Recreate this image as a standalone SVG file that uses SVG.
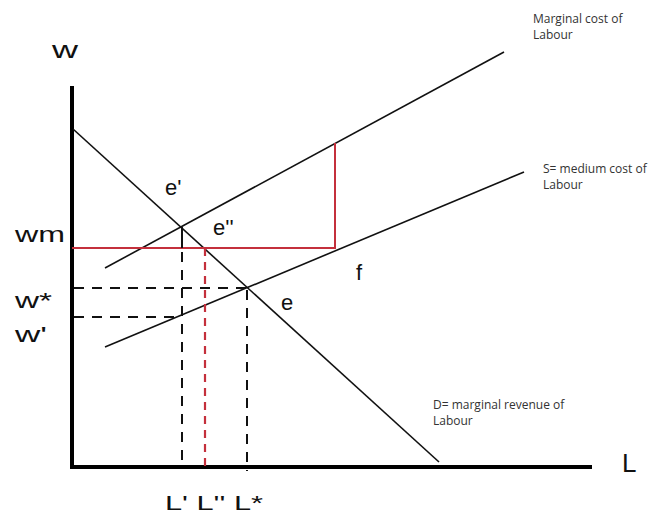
<svg xmlns="http://www.w3.org/2000/svg" width="659" height="515" viewBox="0 0 659 515">
<style>
.big{font-family:"Liberation Sans",Arial,sans-serif;fill:#111}
.small{font-family:"Open Sans","Liberation Sans",sans-serif;font-size:12px;fill:#333}
.curve{stroke:#111;stroke-width:1.6;fill:none}
.dash{stroke:#111;stroke-width:2;stroke-dasharray:10 8;fill:none}
.red{stroke:#c4303c;stroke-width:2;fill:none}
.reddash{stroke:#c4303c;stroke-width:2.2;stroke-dasharray:8 6;fill:none}
</style>
<rect width="659" height="515" fill="#fff"/>
<g id="axes">
<line x1="72" y1="86" x2="72" y2="469" stroke="#000" stroke-width="4"/>
<line x1="70" y1="467" x2="592" y2="467" stroke="#000" stroke-width="4"/>
</g>
<g id="connectors">
<line class="curve" x1="73" y1="129" x2="439" y2="462"/>
<line class="curve" x1="105" y1="268" x2="504" y2="52"/>
<line class="curve" x1="105" y1="347" x2="524" y2="172"/>
<polyline class="red" points="72,248 335,248 335,143"/>
<line class="reddash" x1="205" y1="248" x2="205" y2="467"/>
<line x1="182" y1="227" x2="182" y2="248" stroke="#111" stroke-width="2"/>
<line class="dash" x1="182" y1="252" x2="182" y2="467"/>
<line class="dash" x1="247" y1="290" x2="247" y2="471"/>
<line class="dash" x1="74" y1="288" x2="247" y2="288"/>
<line class="dash" x1="74" y1="317" x2="182" y2="317"/>
</g>
<g id="labels">
<text class="big" x="52" y="58" font-size="24" textLength="26" lengthAdjust="spacingAndGlyphs">w</text>
<text class="big" x="165" y="195" font-size="22">e'</text>
<text class="big" x="213" y="235" font-size="22">e''</text>
<text class="big" x="15" y="242" font-size="22" textLength="50" lengthAdjust="spacingAndGlyphs">wm</text>
<text class="big" x="15" y="308" font-size="22" textLength="37" lengthAdjust="spacingAndGlyphs">w*</text>
<text class="big" x="15" y="342" font-size="22" textLength="32" lengthAdjust="spacingAndGlyphs">w'</text>
<text class="big" x="281" y="310" font-size="22">e</text>
<text class="big" x="356" y="280" font-size="22">f</text>
<text class="big" x="622" y="472" font-size="26">L</text>
<text class="big" x="165" y="510" font-size="21" textLength="98" lengthAdjust="spacingAndGlyphs">L' L'' L*</text>
<text class="small" x="533" y="23">Marginal cost of</text>
<text class="small" x="533" y="39">Labour</text>
<text class="small" x="543" y="173">S= medium cost of</text>
<text class="small" x="543" y="189">Labour</text>
<text class="small" x="433" y="409">D= marginal revenue of</text>
<text class="small" x="433" y="425">Labour</text>
</g>
</svg>
